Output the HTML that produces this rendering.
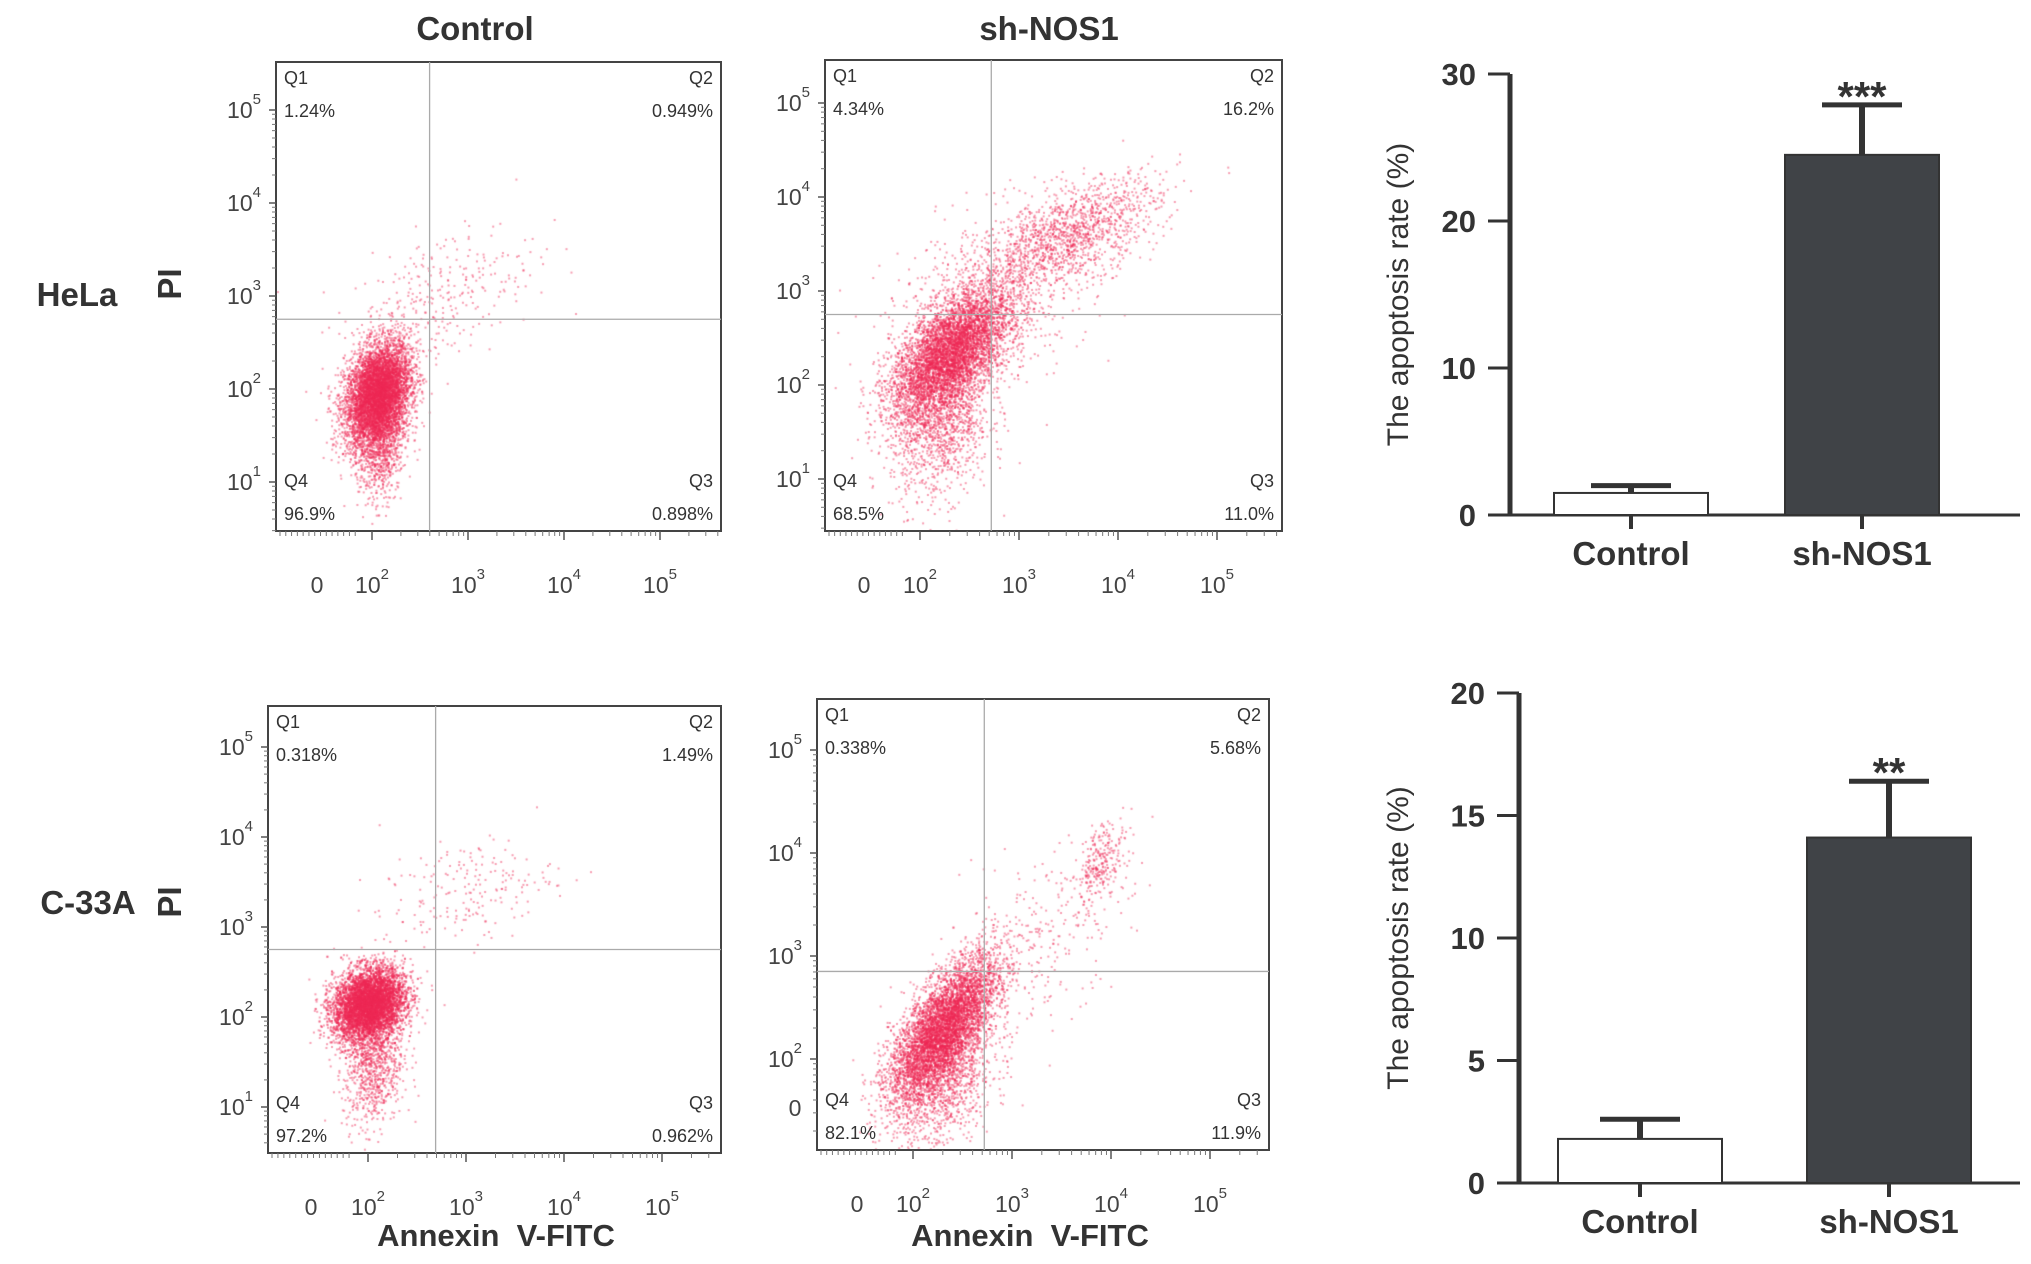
<!DOCTYPE html>
<html><head><meta charset="utf-8"><style>
body{margin:0;background:#fff;width:2031px;height:1264px;overflow:hidden;font-family:"Liberation Sans",sans-serif}
#wrap{position:relative;width:2031px;height:1264px}
canvas,svg{position:absolute;left:0;top:0}
</style></head><body>
<div id="wrap">
<canvas id="dots" width="2031" height="1264"></canvas>
<svg id="svg" width="2031" height="1264"></svg>
</div>
<script>
// ---- Bar chart data ----
const barCategories = ["Control","sh-NOS1"];
const helaMeans = [1.5, 24.5];
const helaErrors = [0.5, 3.4];
const c33Means = [1.8, 14.1];
const c33Errors = [0.8, 2.3];
const helaTicks = [0,10,20,30];
const c33Ticks = [0,5,10,15,20];
const helaStars = ["","***"];
const c33Stars = ["","**"];
// ---- Flow data: quadrant percentages ----
const pctHelaCtrl = ["1.24%","0.949%","0.898%","96.9%"];
const pctHelaSh = ["4.34%","16.2%","11.0%","68.5%"];
const pctC33Ctrl = ["0.318%","1.49%","0.962%","97.2%"];
const pctC33Sh = ["0.338%","5.68%","11.9%","82.1%"];
// clusters: [log10 x center, log10 y center, sdx, sdy, count, correlation]
const clHelaCtrl = [[2.05,1.95,0.17,0.28,6000,0.3],[2.1,1.5,0.12,0.35,1000,0.2],[2.7,3.0,0.5,0.4,300,0.5]];
const clHelaSh = [[2.3,2.35,0.3,0.35,5500,0.6],[2.2,1.6,0.25,0.4,1200,0.2],[3.5,3.6,0.45,0.3,1400,0.6],[2.7,2.9,0.5,0.5,600,0.3]];
const clC33Ctrl = [[2.0,2.15,0.18,0.2,6000,0.2],[2.05,1.5,0.15,0.35,900,0.1],[3.0,3.4,0.45,0.3,200,0.4]];
const clC33Sh = [[2.3,2.3,0.27,0.35,5500,0.7],[2.3,1.8,0.25,0.35,1200,0.3],[3.9,3.95,0.12,0.2,250,0.5],[3.2,3.1,0.5,0.5,300,0.6]];

const NS="http://www.w3.org/2000/svg";
const svg=document.getElementById('svg');
function el(tag,attrs,parent,text){const e=document.createElementNS(NS,tag);for(const k in attrs)e.setAttribute(k,attrs[k]);if(text!==undefined)e.textContent=text;(parent||svg).appendChild(e);return e;}

let seed=12345;
function rnd(){seed=(seed*1103515245+12345)%2147483648;return seed/2147483648;}
function gauss(){let u=rnd()||1e-9,v=rnd();return Math.sqrt(-2*Math.log(u))*Math.cos(2*Math.PI*v);}

const ctx=document.getElementById('dots').getContext('2d');

function flowPanel(name,box,xy10,ydec,x0,xdec,gate,pcts,clusters,xZeroAt,yZeroLabel){
  const g=el('g',{},svg);
  
  
  const [L,T,R,B]=box;
  const X=v=>x0+(v-2)*xdec;
  const Y=v=>xy10-(v-1)*ydec;
  ctx.save();ctx.beginPath();ctx.rect(L,T,R-L,B-T);ctx.clip();
  clusters.forEach(c=>{
    for(let i=0;i<c[4];i++){
      const a=gauss(),b=gauss();
      const lx=c[0]+c[2]*a, ly=c[1]+c[3]*(c[5]*a+Math.sqrt(1-c[5]*c[5])*b);
      ctx.fillStyle='rgba(238,40,85,0.45)';
      ctx.fillRect(X(lx),Y(ly),2,2);
    }
  });
  ctx.restore();
  const r=el('rect',{x:L,y:T,width:R-L,height:B-T,fill:'none',stroke:'#444','stroke-width':2},g);
  
  const gv=el('line',{x1:X(gate[0]),x2:X(gate[0]),y1:T,y2:B,stroke:'#aaa','stroke-width':1.3},g);
  
  const gh=el('line',{x1:L,x2:R,y1:Y(gate[1]),y2:Y(gate[1]),stroke:'#aaa','stroke-width':1.3},g);
  
  const qs=[["Q1",L+8,T+22,'start'],["Q2",R-8,T+22,'end'],["Q3",R-8,B-44,'end'],["Q4",L+8,B-44,'start']];
  const pc=[pcts[0],pcts[1],pcts[2],pcts[3]];
  qs.forEach((q,i)=>{
    const t=el('text',{x:q[1],y:q[2],'font-size':18,fill:'#333','text-anchor':q[3]},g,q[0]);
    
    const p=el('text',{x:q[1],y:q[2]+33,'font-size':18,fill:'#333','text-anchor':q[3]},g,pc[i]);
    
  });
  for(let d=1;d<=5;d++){
    if(yZeroLabel&&d==1)continue;
    const y=Y(d);
    el('line',{x1:L-7,x2:L,y1:y,y2:y,stroke:'#555','stroke-width':1.5},g);
    for(let m=2;m<10;m++){const ym=Y(d+Math.log10(m)-1);if(ym>T&&ym<B)el('line',{x1:L-4,x2:L,y1:ym,y2:ym,stroke:'#777','stroke-width':1},g);}
    const t=el('text',{x:L-32,y:y+8,'font-size':23,fill:'#444','text-anchor':'middle'},g);
    
    el('tspan',{},t,'10');el('tspan',{dy:-14,'font-size':15},t,String(d));
  }
  if(yZeroLabel){const t=el('text',{x:L-22,y:B-34,'font-size':23,fill:'#444','text-anchor':'middle'},g,'0');}
  for(let d=2;d<=5;d++){
    const x=X(d);
    el('line',{x1:x,x2:x,y1:B,y2:B+9,stroke:'#555','stroke-width':1.5},g);
    for(let m=2;m<10;m++){const xm=X(d+Math.log10(m));if(xm<R)el('line',{x1:xm,x2:xm,y1:B,y2:B+5,stroke:'#777','stroke-width':1},g);}
    const t=el('text',{x:x,y:B+62,'font-size':23,fill:'#444','text-anchor':'middle'},g);
    
    el('tspan',{},t,'10');el('tspan',{dy:-14,'font-size':15},t,String(d));
  }
  for(let k=0;k<14;k++){const xm=L+4+k*((xZeroAt+40-L)/14);el('line',{x1:xm,x2:xm,y1:B,y2:B+5,stroke:'#777','stroke-width':1},g);}
  const z=el('text',{x:xZeroAt,y:B+62,'font-size':23,fill:'#444','text-anchor':'middle'},g,'0');
  
}

flowPanel('hela-control-scatter',[276,62,721,531],482,93,372,96,[2.6,2.75],pctHelaCtrl,clHelaCtrl,317,false);
flowPanel('hela-shnos1-scatter',[825,60,1282,531],479,94,920,99,[2.72,2.75],pctHelaSh,clHelaSh,864,false);
flowPanel('c33a-control-scatter',[268,706,721,1153],1107,90,368,98,[2.69,2.75],pctC33Ctrl,clC33Ctrl,311,false);
flowPanel('c33a-shnos1-scatter',[817,699,1269,1150],1162,103,913,99,[2.72,2.85],pctC33Sh,clC33Sh,857,true);

function txt(name,x,y,s,size,extra){const t=el('text',Object.assign({x:x,y:y,'font-size':size,'font-weight':'bold',fill:'#333','text-anchor':'middle'},extra||{}),svg,s);return t;}
txt('column-title-control',475,40,'Control',33);
txt('column-title-shnos1',1049,40,'sh-NOS1',33);
txt('row-label-hela',77,306,'HeLa',33);
txt('row-label-c33a',88,914,'C-33A',33);
txt('y-axis-title-pi',193,296,'PI',33,{transform:'rotate(-90 181 296)'});
txt('y-axis-title-pi',193,914,'PI',33,{transform:'rotate(-90 181 914)'});
txt('x-axis-title',496,1246,'Annexin\u00a0\u00a0V-FITC',31);
txt('x-axis-title',1030,1246,'Annexin\u00a0\u00a0V-FITC',31);

function barChart(name,ax,top,bottom,right,ymax,ticks,cats,means,errs,stars,barX,barW){
  const g=el('g',{},svg);
  
  const Y=v=>bottom-(v/ymax)*(bottom-top);
  el('line',{x1:ax,x2:ax,y1:top,y2:bottom,stroke:'#333','stroke-width':5},g);
  el('line',{x1:ax-8,x2:right,y1:bottom,y2:bottom,stroke:'#333','stroke-width':3},g);
  ticks.forEach(t=>{
    el('line',{x1:ax-22,x2:ax,y1:Y(t),y2:Y(t),stroke:'#333','stroke-width':3},g);
    const l=el('text',{x:ax-34,y:Y(t)+11,'font-size':31,'font-weight':'bold',fill:'#333','text-anchor':'end'},g,String(t));
    
  });
  cats.forEach((c,i)=>{
    const x=barX[i],w=barW,cx=x+w/2;
    const b=el('rect',{x:x,y:Y(means[i]),width:w,height:bottom-Y(means[i]),fill:i?'#404347':'#fff',stroke:'#333','stroke-width':2},g);
    
    const e=Y(means[i]+errs[i]);
    el('line',{x1:cx,x2:cx,y1:Y(means[i]),y2:e,stroke:'#333','stroke-width':6},g);
    el('line',{x1:cx-40,x2:cx+40,y1:e,y2:e,stroke:'#333','stroke-width':5},g);
    el('line',{x1:cx,x2:cx,y1:bottom,y2:bottom+14,stroke:'#333','stroke-width':4},g);
    const l=el('text',{x:cx,y:bottom+50,'font-size':33,'font-weight':'bold',fill:'#333','text-anchor':'middle'},g,c);
    
    if(stars[i]){const s=el('text',{x:cx,y:e+6,'font-size':42,'font-weight':'bold',fill:'#333','text-anchor':'middle'},g,stars[i]);}
  });
  const yt=el('text',{x:0,y:0,'font-size':30,fill:'#333','text-anchor':'middle',transform:'translate(1408,'+((top+bottom)/2)+') rotate(-90)'},g,'The apoptosis rate (%)');
  
}
barChart('hela-bar-chart',1510,74,515,2020,30,helaTicks,barCategories,helaMeans,helaErrors,helaStars,[1554,1785],154);
barChart('c33a-bar-chart',1519,693,1183,2020,20,c33Ticks,barCategories,c33Means,c33Errors,c33Stars,[1558,1807],164);
</script>
</body></html>
